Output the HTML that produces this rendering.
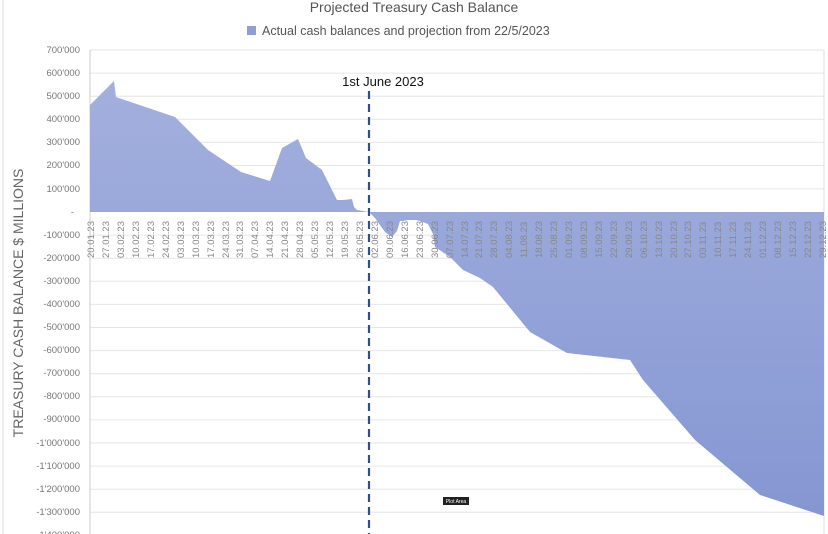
<!DOCTYPE html>
<html><head><meta charset="utf-8"><style>
html,body{margin:0;padding:0;background:#fff;}
svg{display:block;font-family:"Liberation Sans",sans-serif;}
</style></head><body>
<svg width="828" height="534" viewBox="0 0 828 534" xmlns="http://www.w3.org/2000/svg">
<defs><linearGradient id="g" x1="0" y1="0" x2="0" y2="1"><stop offset="0" stop-color="#a3b0de"/><stop offset="1" stop-color="#8596d2"/></linearGradient></defs>
<rect x="0" y="0" width="828" height="534" fill="#fff"/>
<line x1="3" y1="0" x2="3" y2="534" stroke="#ddd"/>
<text x="414" y="12" text-anchor="middle" font-size="14" fill="#555">Projected Treasury Cash Balance</text>
<rect x="247" y="26" width="9" height="9" fill="#8e9fd6"/>
<text x="262" y="35" font-size="12.5" fill="#555">Actual cash balances and projection from 22/5/2023</text>
<g stroke="#e6e6e6" stroke-width="1">
<line x1="90" x2="824" y1="50" y2="50"/><line x1="90" x2="824" y1="73.1" y2="73.1"/><line x1="90" x2="824" y1="96.2" y2="96.2"/><line x1="90" x2="824" y1="119.3" y2="119.3"/><line x1="90" x2="824" y1="142.4" y2="142.4"/><line x1="90" x2="824" y1="165.5" y2="165.5"/><line x1="90" x2="824" y1="188.9" y2="188.9"/><line x1="90" x2="824" y1="235.1" y2="235.1"/><line x1="90" x2="824" y1="258.2" y2="258.2"/><line x1="90" x2="824" y1="281.3" y2="281.3"/><line x1="90" x2="824" y1="304.4" y2="304.4"/><line x1="90" x2="824" y1="327.5" y2="327.5"/><line x1="90" x2="824" y1="350.6" y2="350.6"/><line x1="90" x2="824" y1="373.7" y2="373.7"/><line x1="90" x2="824" y1="396.8" y2="396.8"/><line x1="90" x2="824" y1="419.9" y2="419.9"/><line x1="90" x2="824" y1="443" y2="443"/><line x1="90" x2="824" y1="466.1" y2="466.1"/><line x1="90" x2="824" y1="489.2" y2="489.2"/><line x1="90" x2="824" y1="512.3" y2="512.3"/>
</g>
<line x1="90" y1="50" x2="90" y2="534" stroke="#ccc"/>
<line x1="824" y1="50" x2="824" y2="534" stroke="#ddd"/>
<g font-size="9.5" fill="#777" text-anchor="end">
<text x="80" y="53">700'000</text><text x="80" y="76">600'000</text><text x="80" y="99">500'000</text><text x="80" y="122">400'000</text><text x="80" y="145">300'000</text><text x="80" y="168">200'000</text><text x="80" y="192">100'000</text><text x="74" y="215">-</text><text x="80" y="238">-100'000</text><text x="80" y="261">-200'000</text><text x="80" y="284">-300'000</text><text x="80" y="307">-400'000</text><text x="80" y="330">-500'000</text><text x="80" y="353">-600'000</text><text x="80" y="376">-700'000</text><text x="80" y="399">-800'000</text><text x="80" y="422">-900'000</text><text x="80" y="446">-1'000'000</text><text x="80" y="469">-1'100'000</text><text x="80" y="492">-1'200'000</text><text x="80" y="515">-1'300'000</text><text x="80" y="538">-1'400'000</text>
</g>
<text transform="translate(23,303) rotate(-90)" text-anchor="middle" font-size="14" fill="#666">TREASURY CASH BALANCE $ MILLIONS</text>
<path fill="url(#g)" d="M90,212 L90,105 L114,81 L116,97 L175,117 L208,150 L241,172 L270,181 L282,148 L298,139 L306,158 L322,170 L337,200 L343,200 L352,199 L354,207 L357,210 L369,212 L375,218 L385,232 L392,237 L397,231 L400,221 L403,221 L408,220 L416,220 L420,221 L428,224 L433,234 L435,247 L450,257 L463,270 L480,278 L493,287 L530,332 L567,353 L630,360 L643,380 L695,440 L760,495 L824,516 L824,212 Z"/>
<g font-size="9.5" fill="#888">
<text transform="translate(94,258) rotate(-90)">20.01.23</text><text transform="translate(109,258) rotate(-90)">27.01.23</text><text transform="translate(124,258) rotate(-90)">03.02.23</text><text transform="translate(139,258) rotate(-90)">10.02.23</text><text transform="translate(154,258) rotate(-90)">17.02.23</text><text transform="translate(169,258) rotate(-90)">24.02.23</text><text transform="translate(184,258) rotate(-90)">03.03.23</text><text transform="translate(199,258) rotate(-90)">10.03.23</text><text transform="translate(214,258) rotate(-90)">17.03.23</text><text transform="translate(229,258) rotate(-90)">24.03.23</text><text transform="translate(243,258) rotate(-90)">31.03.23</text><text transform="translate(258,258) rotate(-90)">07.04.23</text><text transform="translate(273,258) rotate(-90)">14.04.23</text><text transform="translate(288,258) rotate(-90)">21.04.23</text><text transform="translate(303,258) rotate(-90)">28.04.23</text><text transform="translate(318,258) rotate(-90)">05.05.23</text><text transform="translate(333,258) rotate(-90)">12.05.23</text><text transform="translate(348,258) rotate(-90)">19.05.23</text><text transform="translate(363,258) rotate(-90)">26.05.23</text><text transform="translate(378,258) rotate(-90)">02.06.23</text><text transform="translate(393,258) rotate(-90)">09.06.23</text><text transform="translate(408,258) rotate(-90)">16.06.23</text><text transform="translate(423,258) rotate(-90)">23.06.23</text><text transform="translate(438,258) rotate(-90)">30.06.23</text><text transform="translate(453,258) rotate(-90)">07.07.23</text><text transform="translate(468,258) rotate(-90)">14.07.23</text><text transform="translate(482,258) rotate(-90)">21.07.23</text><text transform="translate(497,258) rotate(-90)">28.07.23</text><text transform="translate(512,258) rotate(-90)">04.08.23</text><text transform="translate(527,258) rotate(-90)">11.08.23</text><text transform="translate(542,258) rotate(-90)">18.08.23</text><text transform="translate(557,258) rotate(-90)">25.08.23</text><text transform="translate(572,258) rotate(-90)">01.09.23</text><text transform="translate(587,258) rotate(-90)">08.09.23</text><text transform="translate(602,258) rotate(-90)">15.09.23</text><text transform="translate(617,258) rotate(-90)">22.09.23</text><text transform="translate(632,258) rotate(-90)">29.09.23</text><text transform="translate(647,258) rotate(-90)">06.10.23</text><text transform="translate(662,258) rotate(-90)">13.10.23</text><text transform="translate(677,258) rotate(-90)">20.10.23</text><text transform="translate(691,258) rotate(-90)">27.10.23</text><text transform="translate(706,258) rotate(-90)">03.11.23</text><text transform="translate(721,258) rotate(-90)">10.11.23</text><text transform="translate(736,258) rotate(-90)">17.11.23</text><text transform="translate(751,258) rotate(-90)">24.11.23</text><text transform="translate(766,258) rotate(-90)">01.12.23</text><text transform="translate(781,258) rotate(-90)">08.12.23</text><text transform="translate(796,258) rotate(-90)">15.12.23</text><text transform="translate(811,258) rotate(-90)">22.12.23</text><text transform="translate(826,258) rotate(-90)">29.12.23</text>
</g>
<line x1="369" y1="91" x2="369" y2="534" stroke="#2f4f86" stroke-width="2.2" stroke-dasharray="8,5"/>
<text x="383" y="86" text-anchor="middle" font-size="13" fill="#111">1st June 2023</text>
<rect x="443" y="497" width="26" height="8" fill="#222"/>
<text x="456" y="503" text-anchor="middle" font-size="5" fill="#fff">Plot Area</text>
</svg>
</body></html>
